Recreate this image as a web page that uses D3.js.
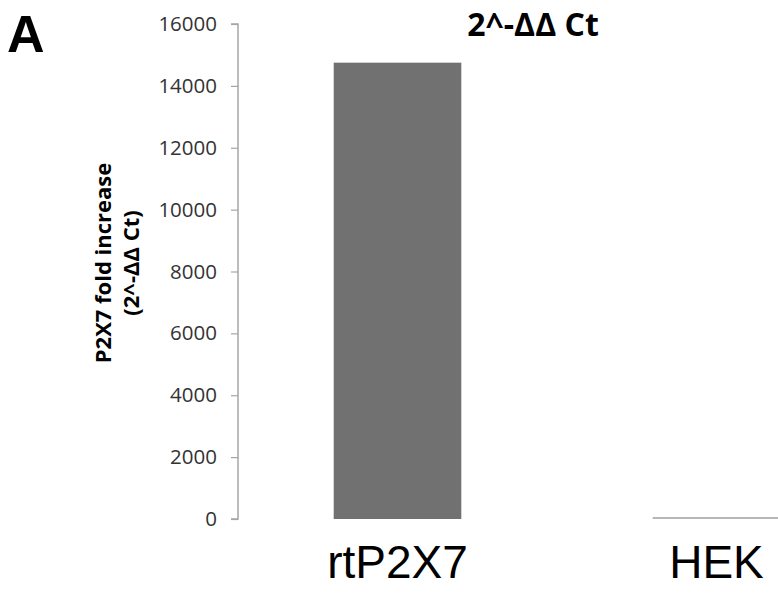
<!DOCTYPE html>
<html>
<head>
<meta charset="utf-8">
<script src="https://cdn.jsdelivr.net/npm/d3@7"></script>
<style>
  body { margin: 0; background: #fff; }
  svg { display: block; }
</style>
</head>
<body>
<svg width="778" height="594"></svg>
<script>
// data
const categories = ["rtP2X7", "HEK"];
const values = [14750, 1];
const yTicks = [0, 2000, 4000, 6000, 8000, 10000, 12000, 14000, 16000];

const svg = d3.select("svg");

//Plot boundary (right side runs past the window, as in the original crop)
const plotLeft = 238, plotRight = 876, plotTop = 24, plotBottom = 519;

const x = d3.scaleBand()
  .domain(categories)
  .range([plotLeft, plotRight])
  .paddingInner(0.6)
  .paddingOuter(0.3);

const y = d3.scaleLinear()
  .domain([0, 16000])
  .range([plotBottom, plotTop]);

//Y axis
const yAxis = svg.append("g")
  .attr("transform", `translate(${plotLeft},0)`)
  .call(d3.axisLeft(y).tickValues(yTicks).tickSize(7).tickPadding(14).tickFormat(d3.format("d")));
yAxis.select(".domain").attr("stroke", "#a6a6a6").attr("stroke-width", 1.5)
  .attr("d", `M-7,${plotTop}H0V${plotBottom}H-7`);
yAxis.selectAll(".tick line").attr("stroke", "#a6a6a6").attr("stroke-width", 1.2);
yAxis.selectAll(".tick text")
  .attr("fill", "#333")
  .attr("font-family", "'Open Sans', sans-serif")
  .attr("font-size", 20.5);

//Bars
svg.append("g")
  .selectAll("rect")
  .data(values)
  .join("rect")
  .attr("x", (d, i) => x(categories[i]))
  .attr("width", x.bandwidth())
  .attr("y", d => Math.min(y(d), y(0) - 1.5))
  .attr("height", d => Math.max(y(0) - y(d), 1))
  .attr("fill", "#717171");

//Category labels
svg.append("g")
  .selectAll("text")
  .data(categories)
  .join("text")
  .attr("x", d => x(d) + x.bandwidth() / 2)
  .attr("y", 578)
  .attr("text-anchor", "middle")
  .attr("font-family", "'Liberation Sans', Arial, sans-serif")
  .attr("font-size", 46)
  .attr("fill", "#000")
  .text(d => d);

//Y title (two lines)
const yTitle = svg.append("text")
  .attr("transform", "translate(111,263) rotate(-90)")
  .attr("text-anchor", "middle")
  .attr("font-family", "'Open Sans', sans-serif")
  .attr("font-weight", "bold")
  .attr("font-size", 22)
  .attr("fill", "#000");
yTitle.append("tspan").attr("x", 0).attr("dy", 0).text("P2X7 fold increase");
yTitle.append("tspan").attr("x", 0).attr("dy", 28).text("(2^-ΔΔ Ct)");

//Chart title
svg.append("text")
  .attr("x", 533)
  .attr("y", 36)
  .attr("text-anchor", "middle")
  .attr("font-family", "'Open Sans', sans-serif")
  .attr("font-weight", "bold")
  .attr("font-size", 32)
  .attr("fill", "#000")
  .text("2^-ΔΔ Ct");

//Panel letter
svg.append("text")
  .attr("x", 7)
  .attr("y", 52)
  .attr("font-family", "'Liberation Sans', Arial, sans-serif")
  .attr("font-weight", "bold")
  .attr("font-size", 52)
  .attr("fill", "#000")
  .text("A");
</script>
</body>
</html>
